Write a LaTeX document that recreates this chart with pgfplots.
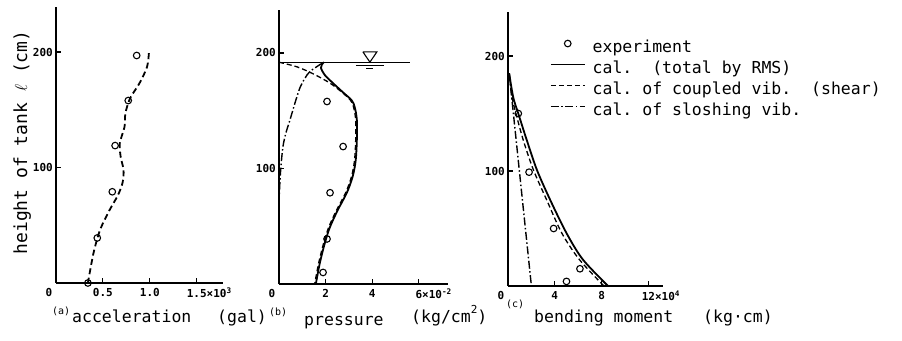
\documentclass[border=0pt]{standalone}
\usepackage{fontspec}
\setmainfont{DejaVu Sans Mono}
\usepackage{pgfplots}
\pgfplotsset{compat=1.18}
\newcommand\tf{\fontsize{11pt}{12pt}\selectfont\bfseries}
\newcommand\lf{\fontsize{16.5pt}{19pt}\selectfont}
\newcommand\supf{\fontsize{10pt}{12pt}\selectfont}
\frenchspacing
\pgfplotsset{
 panel/.style={scale only axis, anchor=south west,
   axis x line=bottom, axis y line=left,
   axis line style={-, line width=1.4pt},
   xmin=0, ymin=0, clip=false,
   tick align=inside, major tick length=5pt,
   tick style={line width=1.1pt, black},
   ticklabel style={font=\tf},
   xticklabel style={anchor=north, inner sep=1pt, yshift=-4pt},
   yticklabel style={anchor=east, inner sep=1pt, xshift=-2pt},
   ytick={100,200}, yticklabels={100,200},
   extra x ticks={0}, extra x tick labels={0},
   extra x tick style={major tick length=0pt, xticklabel style={xshift=-7pt}}},
 exp/.style={only marks, mark=o, mark size=3.3pt, mark options={line width=1.1pt, black}},
 sol/.style={smooth, line width=1.8pt, black},
 dsh/.style={smooth, line width=1.3pt, black, dash pattern=on 5pt off 3pt},
 dd/.style={smooth, line width=1.4pt, black, dash pattern=on 8pt off 2.5pt on 1.5pt off 2.5pt},
 legline/.style={legend image code/.code={\draw[##1] (0pt,5pt) -- (34pt,5pt);}},
 legmark/.style={legend image code/.code={\draw[##1, mark repeat=2, mark phase=2] plot coordinates {(0pt,5pt)(17pt,5pt)(34pt,5pt)};}},
}
\begin{document}
\begin{tikzpicture}
\path[use as bounding box] (0pt,0pt) rectangle (902pt,340pt);
% (a)
\begin{axis}[panel, at={(56pt,57pt)}, width=167pt, height=276pt, xmax=1.78, ymax=239,
  xtick={0.5,1,1.5}, xticklabels={0.5,1.0,{1.5\rlap{×10\textsuperscript{3}}}}]
\addplot[exp] coordinates {(0.86,197)(0.77,158)(0.63,119)(0.60,79)(0.44,39)(0.34,0)};
\addplot[smooth, line width=1.8pt, black, dash pattern=on 6pt off 3.5pt] coordinates {(0.99,199)(0.97,187)(0.89,173)(0.79,160)(0.74,147)(0.73,135)(0.68,121)(0.69,109)(0.72,98)(0.71,87)(0.66,76)(0.57,63)(0.47,46)(0.40,26)(0.34,0)};
\end{axis}
% (b)
\begin{axis}[panel, at={(279pt,56pt)}, width=169pt, height=274pt, xmax=7.25, ymax=237.2,
  xtick={2,4,6}, xticklabels={2,4,{6\rlap{×10\textsuperscript{-2}}}}]
\addplot[line width=1.1pt, black] coordinates {(0,192)(5.6,192)};
\addplot[line width=1.1pt, black] coordinates {(3.6,201)(4.2,201)(3.9,192)(3.6,201)};
\addplot[line width=1.1pt, black] coordinates {(3.3,189.5)(4.5,189.5)};
\addplot[line width=0.9pt, black] coordinates {(3.75,187)(4.05,187)};
\addplot[exp] coordinates {(2.06,158)(2.75,119)(2.19,79)(2.06,39)(1.89,10)};
\addplot[sol] coordinates {(1.58,0)(1.75,18)(1.96,35)(2.18,49)(2.52,64)(2.91,79)(3.16,93)(3.29,107)(3.34,125)(3.34,142)(3.25,153)(3.12,159)(2.74,166)(2.31,174)(1.96,181)(1.80,187)(1.84,190)(1.93,192)};
\addplot[dsh] coordinates {(0,192)(0.77,188)(1.46,182)(2.18,174)(2.70,166)(3.07,159)(3.20,153)(3.29,142)(3.29,125)(3.24,107)(3.11,93)(2.86,79)(2.47,64)(2.13,49)(1.91,35)(1.70,18)(1.53,0)};
\addplot[dd] coordinates {(1.84,191)(1.33,184)(1.11,178)(0.90,170)(0.69,157)(0.47,142)(0.30,131)(0.17,119)(0.08,101)(0.03,85)(0,70)};
\end{axis}
% (c)
\begin{axis}[panel, at={(508pt,54pt)}, width=155pt, height=274pt, xmax=13.25, ymax=238.3,
  xtick={4,8,12}, xticklabels={4,8,{12\rlap{×10\textsuperscript{4}}}},
  legend style={at={(axis description cs:0.27,0.905)}, anchor=north west, draw=none, fill=none,
    inner sep=0pt, outer sep=0pt, font=\lf, row sep=0pt,
    nodes={inner xsep=0pt, inner ysep=0pt, text height=14pt, text depth=7pt},
    /tikz/every odd column/.append style={column sep=7pt}},
  legend cell align=left]
\addplot[exp, legmark] coordinates {(0.88,150)(1.8,99)(3.9,50)(6.15,15)(5.0,4)};
\addplot[sol, legline] coordinates {(0.1,185)(0.45,164)(0.88,150)(1.6,127)(2.47,101)(3.6,75)(5.0,46)(6.4,23)(8.55,0)};
\addplot[dsh, legline] coordinates {(0.1,185)(0.35,164)(0.68,150)(1.3,127)(2.17,101)(3.3,75)(4.6,46)(6.1,23)(8.2,0)};
\addplot[dd, legline] coordinates {(0.1,185)(2.0,0)};
\legend{experiment, {cal.\ \ (total by RMS)}, {cal. of coupled vib.\ \ (shear)}, {cal. of sloshing vib.}}
\end{axis}
% labels
\node[rotate=90, anchor=base, font=\fontsize{18pt}{20pt}\selectfont, inner sep=0pt] at (27pt,197.5pt) {height of tank $\ell$ (cm)};
\node[anchor=base west, font=\supf, inner sep=0pt] at (52pt,25pt) {(a)};
\node[anchor=base west, font=\lf, inner sep=0pt] at (72pt,17pt) {acceleration};
\node[anchor=base west, font=\lf, inner sep=0pt] at (217pt,17pt) {(gal)};
\node[anchor=base west, font=\supf, inner sep=0pt] at (269pt,24pt) {(b)};
\node[anchor=base west, font=\lf, inner sep=0pt] at (304pt,14pt) {pressure};
\node[anchor=base west, font=\lf, inner sep=0pt] at (411pt,17pt) {(kg/cm\raisebox{9pt}{\fontsize{11pt}{12pt}\selectfont 2})};
\node[anchor=base west, font=\supf, inner sep=0pt] at (506pt,32pt) {(c)};
\node[anchor=base west, font=\lf, inner sep=0pt] at (534pt,18pt) {bending moment};
\node[anchor=base west, font=\lf, inner sep=0pt] at (703pt,18pt) {(kg·cm)};
\end{tikzpicture}
\end{document}
